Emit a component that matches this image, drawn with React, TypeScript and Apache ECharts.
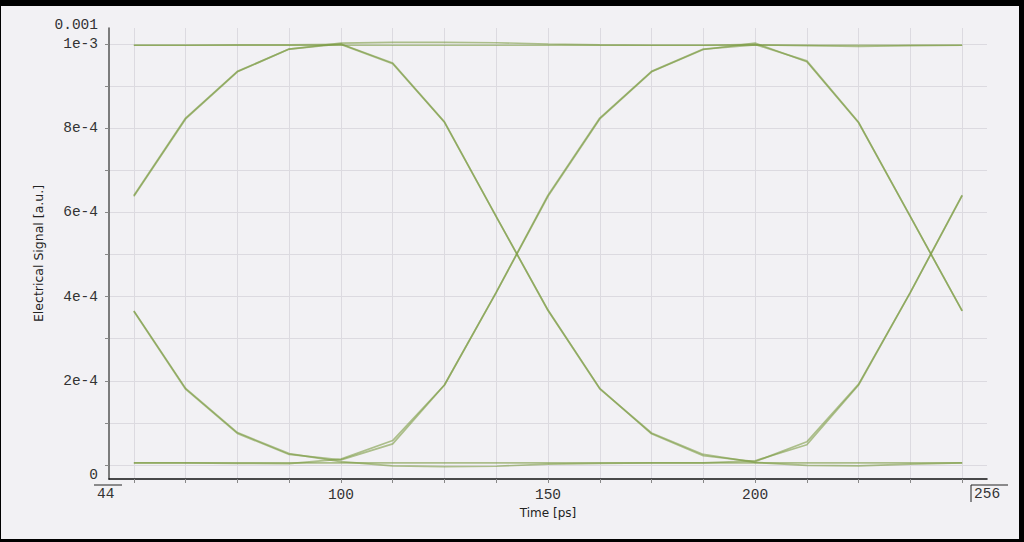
import React, { useEffect, useRef } from 'react';
import * as echarts from 'echarts';

// Sample times [ps]
const times = [50, 62.5, 75, 87.5, 100, 112.5, 125, 137.5, 150, 162.5, 175, 187.5, 200, 212.5, 225, 237.5, 250];

// Eye-diagram traces (electrical signal, a.u.), one value per sample time
const trace1111 = [9.97e-4, 9.97e-4, 9.97e-4, 9.97e-4, 9.97e-4, 9.97e-4, 9.97e-4, 9.97e-4, 9.97e-4, 9.97e-4, 9.97e-4, 9.97e-4, 9.97e-4, 9.97e-4, 9.97e-4, 9.97e-4, 9.97e-4];
const trace0000 = [0.05e-4, 0.05e-4, 0.05e-4, 0.05e-4, 0.05e-4, 0.05e-4, 0.05e-4, 0.05e-4, 0.05e-4, 0.05e-4, 0.05e-4, 0.05e-4, 0.05e-4, 0.05e-4, 0.05e-4, 0.05e-4, 0.05e-4];
const trace0101 = [6.4e-4, 8.24e-4, 9.35e-4, 9.88e-4, 10.0e-4, 9.55e-4, 8.15e-4, 5.9e-4, 3.68e-4, 1.82e-4, 0.74e-4, 0.22e-4, 0.08e-4, 0.55e-4, 1.92e-4, 4.1e-4, 6.4e-4];
const trace1010 = [3.65e-4, 1.8e-4, 0.75e-4, 0.25e-4, 0.12e-4, 0.5e-4, 1.9e-4, 4.1e-4, 6.38e-4, 8.22e-4, 9.34e-4, 9.87e-4, 10.02e-4, 9.58e-4, 8.13e-4, 5.9e-4, 3.66e-4];
const trace0110 = [6.38e-4, 8.22e-4, 9.34e-4, 9.88e-4, 10.02e-4, 10.04e-4, 10.04e-4, 10.03e-4, 10.0e-4, 9.98e-4, 9.97e-4, 9.97e-4, 9.99e-4, 9.6e-4, 8.14e-4, 5.9e-4, 3.66e-4];
const trace1001 = [3.66e-4, 1.82e-4, 0.77e-4, 0.27e-4, 0.08e-4, -0.02e-4, -0.04e-4, -0.03e-4, 0.02e-4, 0.04e-4, 0.05e-4, 0.05e-4, 0.1e-4, 0.48e-4, 1.9e-4, 4.1e-4, 6.41e-4];
const trace1100 = [9.97e-4, 9.97e-4, 9.98e-4, 9.98e-4, 9.99e-4, 9.53e-4, 8.14e-4, 5.9e-4, 3.67e-4, 1.81e-4, 0.76e-4, 0.25e-4, 0.06e-4, -0.01e-4, -0.02e-4, 0.02e-4, 0.05e-4];
const trace0011 = [0.05e-4, 0.05e-4, 0.04e-4, 0.03e-4, 0.14e-4, 0.58e-4, 1.9e-4, 4.1e-4, 6.41e-4, 8.24e-4, 9.35e-4, 9.88e-4, 9.98e-4, 9.96e-4, 9.94e-4, 9.96e-4, 9.97e-4];

const traces = [trace1111, trace0000, trace0101, trace1010, trace0110, trace1001, trace1100, trace0011];

// Axis ticks and labels
const xTickValues = [50, 62.5, 75, 87.5, 100, 112.5, 125, 137.5, 150, 162.5, 175, 187.5, 200, 212.5, 225, 237.5, 250];
const xLabelValues = [100, 150, 200];
const yTickValues = [0, 1e-4, 2e-4, 3e-4, 4e-4, 5e-4, 6e-4, 7e-4, 8e-4, 9e-4, 1e-3];
const yLabelValues = [2e-4, 4e-4, 6e-4, 8e-4, 1e-3];
const xRange = [44, 256];
const yRange = [-3.33e-5, 1.038e-3];
const yMaxText = '0.001';
const yMinText = '0';
const xMinText = '44';
const xMaxText = '256';

const MONO = 'Liberation Mono';
const SANS = 'DejaVu Sans';

export default function App() {
  const ref = useRef<HTMLDivElement>(null);
  useEffect(() => {
    const chart = echarts.init(ref.current!, null, { renderer: 'svg' });
    const lineColor = '#7d9c45';
    chart.setOption({
      animation: false,
      backgroundColor: '#f2f1f4',
      grid: { left: 108, right: 32, top: 22, bottom: 60, outerBoundsMode: 'none', containLabel: false },
      xAxis: {
        type: 'value',
        min: xRange[0],
        max: xRange[1],
        name: 'Time [ps]',
        nameLocation: 'middle',
        nameGap: 26,
        nameTextStyle: { fontFamily: SANS, fontSize: 12, color: '#222' },
        axisLine: { show: true, onZero: false, lineStyle: { color: '#111', width: 1.5 } },
        axisTick: { show: true, length: 4, customValues: xTickValues, lineStyle: { color: '#888', width: 1 } },
        axisLabel: {
          show: true,
          customValues: xLabelValues,
          margin: 8,
          fontFamily: MONO,
          fontSize: 14.5,
          color: '#333',
          formatter: (v: number) => String(v),
        },
        splitLine: { show: true, lineStyle: { color: '#dcdae0', width: 1 } },
      },
      yAxis: {
        type: 'value',
        min: yRange[0],
        max: yRange[1],
        name: 'Electrical Signal [a.u.]',
        nameLocation: 'middle',
        nameGap: 64,
        nameTextStyle: { fontFamily: SANS, fontSize: 12.5, color: '#222' },
        axisLine: { show: true, onZero: false, lineStyle: { color: '#555', width: 1.5 } },
        axisTick: { show: true, length: 4, customValues: yTickValues, lineStyle: { color: '#888', width: 1 } },
        axisLabel: {
          show: true,
          customValues: yLabelValues,
          margin: 11,
          fontFamily: MONO,
          fontSize: 14.5,
          color: '#333',
          formatter: (v: number) => v.toExponential(0),
        },
        splitLine: { show: true, lineStyle: { color: '#dcdae0', width: 1 } },
      },
      graphic: [
        { type: 'text', x: 97, y: 19, style: { text: yMaxText, font: `14.5px "${MONO}"`, fill: '#333', textAlign: 'right', textVerticalAlign: 'middle' } },
        { type: 'text', x: 97, y: 469, style: { text: yMinText, font: `14.5px "${MONO}"`, fill: '#333', textAlign: 'right', textVerticalAlign: 'middle' } },
        { type: 'line', shape: { x1: 93, y1: 479, x2: 121, y2: 479 }, style: { stroke: '#222', lineWidth: 1 } },
        { type: 'text', x: 96, y: 488, style: { text: xMinText, font: `14.5px "${MONO}"`, fill: '#333', textAlign: 'left', textVerticalAlign: 'middle' } },
        { type: 'polyline', shape: { points: [[970, 496], [970, 479], [1007, 479]] }, style: { stroke: '#222', lineWidth: 1, fill: 'none' } },
        { type: 'text', x: 973, y: 488, style: { text: xMaxText, font: `14.5px "${MONO}"`, fill: '#333', textAlign: 'left', textVerticalAlign: 'middle' } },
      ],
      series: traces.map((tr, k) => ({
        type: 'line',
        name: 'trace' + k,
        data: times.map((t, i) => [t, tr[i]]),
        showSymbol: false,
        symbol: 'none',
        silent: true,
        lineStyle: { color: lineColor, width: 1.7, opacity: 0.6 },
        itemStyle: { color: lineColor },
        emphasis: { disabled: true },
      })),
    });
    return () => chart.dispose();
  }, []);
  return (
    <div style={{ position: 'fixed', left: 0, top: 0, width: 1024, height: 542, background: '#000' }}>
      <div ref={ref} style={{ position: 'absolute', left: 1, top: 6, width: 1018, height: 533 }} />
    </div>
  );
}
